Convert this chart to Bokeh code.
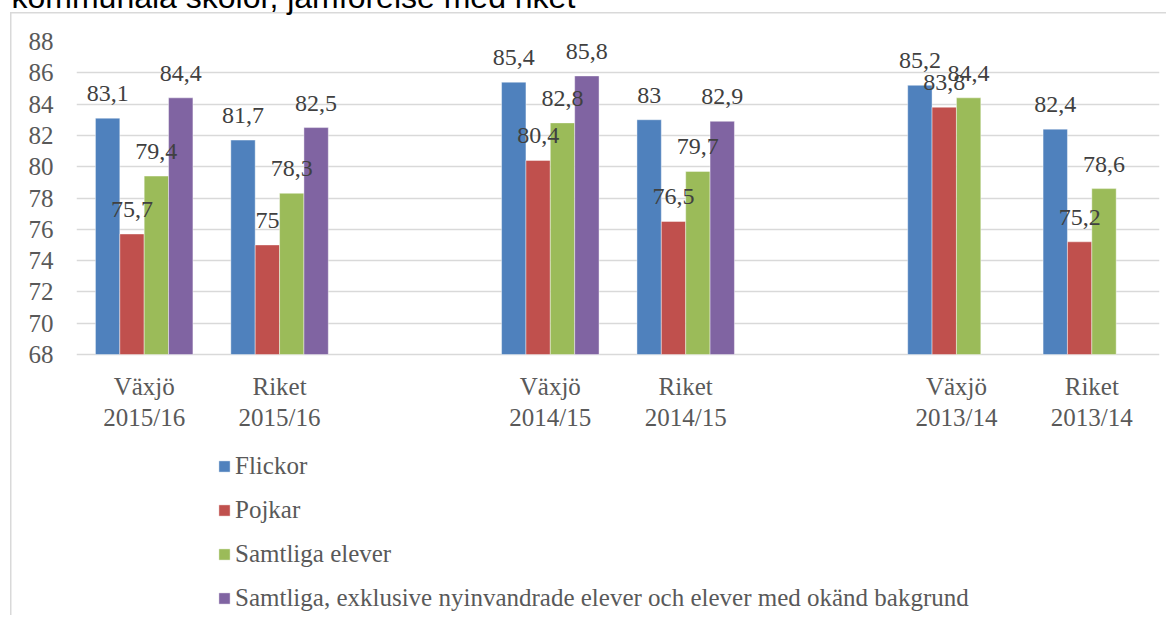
from bokeh.plotting import figure
from bokeh.models import (FactorRange, Range1d, FixedTicker, ColumnDataSource, LabelSet,
                          Label, Legend, LegendItem)
from bokeh.transform import dodge
from bokeh.embed import file_html
from bokeh.resources import INLINE

# ---- data ----
title_text = "kommunala skolor, jämförelse med riket"
categories = ["Växjö\n2015/16", "Riket\n2015/16", "Växjö\n2014/15",
              "Riket\n2014/15", "Växjö\n2013/14", "Riket\n2013/14"]
factors = ["Växjö\n2015/16", "Riket\n2015/16", " ",
           "Växjö\n2014/15", "Riket\n2014/15", "  ",
           "Växjö\n2013/14", "Riket\n2013/14"]
series_names = ["Flickor", "Pojkar", "Samtliga elever",
                "Samtliga, exklusive nyinvandrade elever och elever med okänd bakgrund"]
flickor = [83.1, 81.7, 85.4, 83.0, 85.2, 82.4]
pojkar = [75.7, 75.0, 80.4, 76.5, 83.8, 75.2]
samtliga = [79.4, 78.3, 82.8, 79.7, 84.4, 78.6]
exklusive = [84.4, 82.5, 85.8, 82.9, None, None]
y_ticks = [68, 70, 72, 74, 76, 78, 80, 82, 84, 86, 88]

colors = ["#4F81BD", "#C0504D", "#9BBB59", "#8064A2"]
offsets = [-0.27, -0.09, 0.09, 0.27]
SERIF = "Liberation Serif"

W, H = 1166, 615
TOP, BASE = 41, 354          # pixel rows of 88 and 68 in the layout
ymin, ymax = y_ticks[0], y_ticks[-1]
y_start = ymax - (ymax - ymin) * (H - TOP) / (BASE - TOP)   # room below axis for labels/legend

p = figure(x_range=FactorRange(factors=factors, range_padding=0),
           y_range=Range1d(y_start, ymax),
           width=W, height=H,
           min_border_left=76, min_border_right=7, min_border_top=TOP, min_border_bottom=0,
           output_backend="svg", toolbar_location=None,
           styles={"box-shadow": "inset 10px 12px 0 0 #FFFFFF, inset 11.5px 13.5px 0 0 #D9D9D9"})
p.outline_line_color = None
p.background_fill_color = None
p.border_fill_color = None

p.xgrid.grid_line_color = None
p.ygrid.grid_line_color = "#D9D9D9"
p.ygrid.grid_line_width = 1.5

p.yaxis.ticker = FixedTicker(ticks=y_ticks)
p.yaxis.axis_line_color = None
p.yaxis.major_tick_line_color = None
p.yaxis.minor_tick_line_color = None
p.yaxis.major_label_standoff = 17
p.yaxis.major_label_text_font = SERIF
p.yaxis.major_label_text_font_size = "25px"
p.yaxis.major_label_text_color = "#595959"

p.xaxis.fixed_location = ymin
p.xaxis.axis_line_color = None
p.xaxis.major_tick_line_color = None
p.xaxis.major_label_standoff = 12
p.xaxis.major_label_text_font = SERIF
p.xaxis.major_label_text_font_size = "25px"
p.xaxis.major_label_text_color = "#595959"
p.xaxis.major_label_text_line_height = 1.15

all_series = [flickor, pojkar, samtliga, exklusive]
items = []
for name, vals, col, off in zip(series_names, all_series, colors, offsets):
    xs = [c for c, v in zip(categories, vals) if v is not None]
    ys = [v for v in vals if v is not None]
    labels = [("%g" % v).replace(".", ",") for v in ys]
    src = ColumnDataSource(dict(x=xs, top=ys, label=labels))
    r = p.vbar(x=dodge("x", off, range=p.x_range), top="top", bottom=ymin, width=0.18,
               source=src, fill_color=col, line_color="white", line_width=0.6, line_alpha=0.7)
    items.append(LegendItem(label=name, renderers=[r]))
    p.add_layout(LabelSet(x=dodge("x", off, range=p.x_range), y="top", text="label",
                          source=src, y_offset=17, text_align="center",
                          text_baseline="alphabetic", text_font=SERIF,
                          text_font_size="24px", text_color="#404040"))

legend = Legend(items=items, location=(141, 2), orientation="vertical",
                glyph_width=14, glyph_height=14, label_height=30, spacing=14,
                label_standoff=4, padding=0, margin=0,
                label_text_font=SERIF, label_text_font_size="25px",
                label_text_color="#595959",
                border_line_color=None, background_fill_alpha=0)
p.add_layout(legend, "center")

p.add_layout(Label(x=11, y=-4, x_units="canvas", y_units="canvas", text=title_text,
                   text_font="Liberation Sans", text_font_size="32px",
                   text_color="#000000", text_baseline="alphabetic"), "above")

open("out.html", "w").write(file_html(p, INLINE))
